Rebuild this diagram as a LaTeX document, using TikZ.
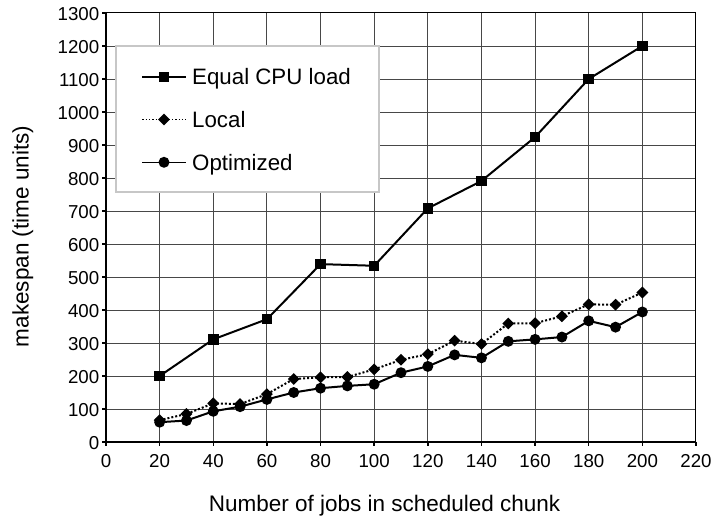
\documentclass[tikz,border=0pt]{standalone}
\usepackage{fontspec}
\setmainfont{Liberation Sans}
\usetikzlibrary{shapes.geometric}
\begin{document}
\begin{tikzpicture}[x=1pt,y=1pt,
  gridline/.style={draw=black!72, line width=0.9pt},
  tickfont/.style={font=\fontsize{18.7}{20}\selectfont, inner sep=0pt},
  titlefont/.style={font=\fontsize{22.5}{24}\selectfont, inner sep=0pt},
  legfont/.style={font=\fontsize{22.3}{24}\selectfont, inner sep=0pt},
  sqmark/.style={rectangle, fill=black, inner sep=0pt, minimum size=10.5pt},
  dmmark/.style={diamond, fill=black, inner sep=0pt, minimum width=12pt, minimum height=12pt},
  cimark/.style={circle, fill=black, inner sep=0pt, minimum size=11pt},
  solidseries/.style={line width=2pt, line join=round},
  dotseries/.style={line width=2pt, dotted, line join=round}]
\useasboundingbox (0,0) rectangle (713,518);

% ---- plot area: 0..220 jobs horizontally, 0..1300 time units vertically
\begin{scope}[shift={(106,76)}, x=2.6818pt, y=0.33pt]
  % grid
  \foreach \v in {100,200,...,1200} \draw[gridline] (0,\v) -- (220,\v);
  \foreach \u in {20,40,...,200} \draw[gridline] (\u,0) -- (\u,1300);
  % frame and axes
  \draw[line width=1pt] (0,1300) -- (220,1300) -- (220,0);
  \draw[line width=2pt] (0,1300) -- (0,0) -- (220,0);
  % ticks and tick labels
  \foreach \v in {0,100,...,1300} {
    \draw[line width=1.5pt] (0,\v) -- ++(-4pt,0);
    \node[tickfont, anchor=east] (yl\v) at ([xshift=-6.5pt,yshift=-0.8pt]0,\v) {\v};
  }
  \foreach \u in {0,20,...,220} {
    \draw[line width=1.5pt] (\u,0) -- ++(0,-4.5pt);
    \node[tickfont, anchor=base] (xl\u) at ([yshift=-25.7pt]\u,0) {\u};
  }
\end{scope}

% legend box
\fill[white] (116,326) rectangle (379,472);
\draw[draw=black!22, line width=1.3pt] (116,326) rectangle (379,472);

\begin{scope}[shift={(106,76)}, x=2.6818pt, y=0.33pt]
  % Local
  \foreach \x/\y in {20/66,30/85,40/117,50/115,60/145,70/191,80/196,90/197,100/220,
                     110/249,120/266,130/307,140/297,150/359,160/360,170/381,180/417,
                     190/416,200/453}
    \node[dmmark] (L\x) at (\x,\y) {};
  \draw[dotseries] (L20.center) \foreach \x in {30,40,...,200} { -- (L\x.center) };

  % Optimized
  \foreach \x/\y in {20/60,30/65,40/93,50/107,60/129,70/150,80/163,90/170,100/175,
                     110/210,120/229,130/264,140/255,150/305,160/311,170/318,180/367,
                     190/348,200/394}
    \node[cimark] (O\x) at (\x,\y) {};
  \draw[solidseries] (O20.center) \foreach \x in {30,40,...,200} { -- (O\x.center) };

  % Equal CPU load
  \foreach \x/\y in {20/200,40/311,60/372,80/539,100/534,120/708,140/791,160/924,
                     180/1100,200/1200}
    \node[sqmark] (E\x) at (\x,\y) {};
  \draw[solidseries] (E20.center) \foreach \x in {40,60,...,200} { -- (E\x.center) };
\end{scope}

% legend entries
\coordinate (lgAa) at (142.3,441);   \coordinate (lgAb) at (185.7,441);
\coordinate (lgBa) at (142.3,398.5); \coordinate (lgBb) at (185.7,398.5);
\coordinate (lgCa) at (142.3,355.7); \coordinate (lgCb) at (185.7,355.7);
\draw[line width=1.3pt] (lgAa) -- (lgAb);
\draw[line width=1.3pt, dotted] (lgBa) -- (lgBb);
\draw[line width=1.3pt] (lgCa) -- (lgCb);
\node[sqmark] (lgAm) at (164,441) {};
\node[dmmark] (lgBm) at (164,398.5) {};
\node[cimark] (lgCm) at (164,355.7) {};
\node[legfont, anchor=base west] (lgAt) at (192,433) {Equal CPU load};
\node[legfont, anchor=base west] (lgBt) at (192,390.5) {Local};
\node[legfont, anchor=base west] (lgCt) at (192,347.7) {Optimized};

% axis titles
\node[titlefont, anchor=base] (xtitle) at (384.5,6) {Number of jobs in scheduled chunk};
\node[titlefont, anchor=base, rotate=90] (ytitle) at (28.5,281.5) {makespan (time units)};
\end{tikzpicture}
\end{document}
